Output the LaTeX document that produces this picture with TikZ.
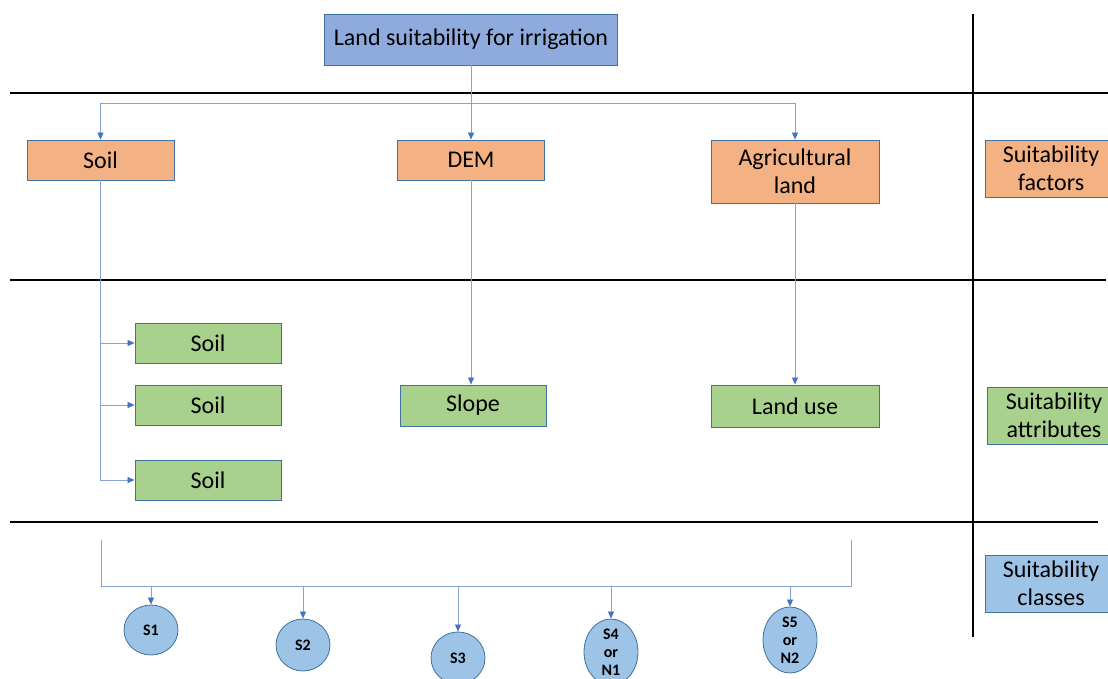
\documentclass[tikz,border=0pt]{standalone}
\usepackage{fontspec}
\setmainfont{Carlito}
\usetikzlibrary{arrows.meta,shapes.geometric}

\definecolor{boxblue}{HTML}{8FAADC}
\definecolor{boxorange}{HTML}{F4B183}
\definecolor{boxgreen}{HTML}{A9D18E}
\definecolor{boxlight}{HTML}{9DC3E6}
\definecolor{edgeblue}{HTML}{41719C}
\definecolor{linkblue}{HTML}{4472C4}

\tikzset{
    box/.style={draw=edgeblue, line width=0.8pt, inner sep=0pt, align=center,
        font=\fontsize{24}{28}\selectfont},
    goal/.style={box, fill=boxblue},
    factor/.style={box, fill=boxorange},
    attrib/.style={box, fill=boxgreen},
    classlbl/.style={box, fill=boxlight},
    classnode/.style={ellipse, draw=edgeblue, line width=0.8pt, fill=boxlight,
        inner sep=0pt, minimum width=54pt, align=center,
        font=\fontsize{16}{18}\selectfont\bfseries},
    link/.style={draw=linkblue!65, line width=0.7pt},
    arr/.style={link, -{Triangle[length=7pt,width=6pt,color=linkblue]}},
    rule/.style={line width=1.5pt}
}

\begin{document}
\begin{tikzpicture}[x=1pt, y=-1pt]
    \useasboundingbox (0,0) rectangle (1108,679);

    % section rules
    \draw[rule] (10,93) -- (1108,93);
    \draw[rule] (10,280) -- (1106,280);
    \draw[rule] (10,522) -- (1098,522);
    \draw[rule] (973,14) -- (973,637);

    % goal and factors
    \node[goal, minimum width=293pt, minimum height=51pt] (goal) at (471,39.5) {Land suitability for irrigation};
    \node[factor, minimum width=147pt, minimum height=40pt] (soil) at (100.5,160) {Soil};
    \node[factor, minimum width=147pt, minimum height=40pt] (dem) at (471,160) {DEM};
    \node[factor, minimum width=168pt, minimum height=63pt] (agri) at (795,171.5) {Agricultural\\land};

    % attributes
    \node[attrib, minimum width=146pt, minimum height=40pt] (soila) at (208,343) {Soil};
    \node[attrib, minimum width=146pt, minimum height=40pt] (soilb) at (208,405) {Soil};
    \node[attrib, minimum width=146pt, minimum height=40pt] (soilc) at (208,480) {Soil};
    \node[attrib, minimum width=146pt, minimum height=41pt] (slope) at (473,405.5) {Slope};
    \node[attrib, minimum width=168pt, minimum height=42pt] (landuse) at (795,406) {Land use};

    % side labels
    \node[factor, minimum width=132pt, minimum height=57pt] (lblfac) at (1051,168.5) {Suitability\\factors};
    \node[attrib, minimum width=134pt, minimum height=57pt] (lblatt) at (1054,415.5) {Suitability\\attributes};
    \node[classlbl, minimum width=132pt, minimum height=57pt] (lblcls) at (1051,583.5) {Suitability\\classes};

    % classes
    \node[classnode, minimum height=50pt] (s1) at (151,630) {S1};
    \node[classnode, minimum height=52pt] (s2) at (303,645) {S2};
    \node[classnode, minimum height=52pt] (s3) at (458,658) {S3};
    \node[classnode, minimum height=66pt] (s4) at (611,652) {S4\\or\\N1};
    \node[classnode, minimum height=66pt] (s5) at (790,640) {S5\\or\\N2};

    % connectors
    \draw[arr] (goal.south) -- ++(0,38) -| (soil.north);
    \draw[arr] (goal.south) -- (dem.north);
    \draw[arr] (goal.south) -- ++(0,38) -| (agri.north);

    \foreach \to in {soila, soilb, soilc}
        \draw[arr] (soil.south) |- (\to.west);
    \draw[arr] (dem.south) -- (dem.south |- slope.north);
    \draw[arr] (agri.south) -- (landuse.north);

    \coordinate (bl) at (101,540);
    \coordinate (br) at (851,540);
    \coordinate (bar) at (0,586);
    \draw[link] (bl) -- ++(0,46) -| (br);
    \foreach \to in {s1, s2, s3, s4, s5}
        \draw[arr] (\to.north |- bar) -- (\to.north);
\end{tikzpicture}
\end{document}
